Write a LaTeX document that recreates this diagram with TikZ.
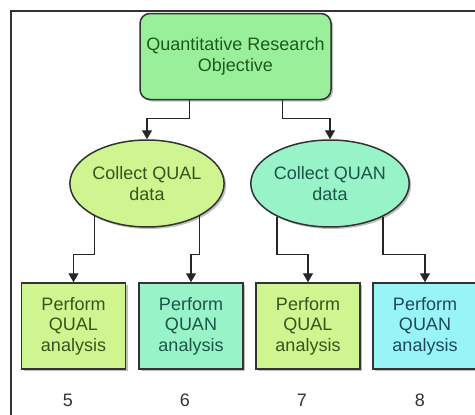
\documentclass[tikz,border=0pt]{standalone}
\usepackage{fontspec}
\setmainfont{Liberation Sans}
\usepackage{xcolor}
\usepackage{tikz}
\usetikzlibrary{arrows.meta, shapes.geometric, shadows}
\definecolor{objFill}{HTML}{9AF09A}
\definecolor{qualFill}{HTML}{CEF590}
\definecolor{quanFill}{HTML}{99F3C8}
\definecolor{cyanFill}{HTML}{99F5F5}
\definecolor{greenText}{HTML}{1E5A1E}
\definecolor{olivText}{HTML}{35551A}
\definecolor{tealText}{HTML}{1A5548}
\definecolor{blueText}{HTML}{1A4A5A}
\definecolor{edgeColor}{HTML}{333333}

\begin{document}
\begin{tikzpicture}[x=1pt, y=-1pt,
    every node/.style={font=\fontsize{18}{20.5}\selectfont, align=center, inner sep=0pt},
    shapebase/.style={draw=edgeColor, line width=1.5pt,
        drop shadow={shadow xshift=2pt, shadow yshift=-2pt, fill=black, opacity=0.25}},
    objbox/.style={shapebase, rectangle, rounded corners=10pt, fill=objFill, text=greenText,
        minimum width=191pt, minimum height=86pt},
    collect/.style={shapebase, ellipse, minimum width=148pt, minimum height=87pt},
    taskbox/.style={shapebase, rectangle, minimum width=104pt, minimum height=86pt},
    conn/.style={draw=black!85, line width=1.4pt, -{Triangle[length=9pt, width=10pt]}},
    num/.style={text=black!80}]
    \useasboundingbox (0,0) rectangle (475,415);
    \clip (0,0) rectangle (475,415);
    \draw[line width=1.4pt, edgeColor] (11,420) -- (11,11) -- (480,11);

    \node[objbox] (obj) at (235.5,56.5) {Quantitative Research\\Objective};

    \node[collect, fill=qualFill, text=olivText] (qual) at (147,183.5) {Collect QUAL\\data};
    \node[collect, fill=quanFill, text=tealText] (quan) at (330,183.5) {Collect QUAN\\data};

    \node[taskbox, fill=qualFill, text=olivText] (qual1) at (73.5,326) {Perform\\QUAL\\analysis};
    \node[taskbox, fill=quanFill, text=tealText] (quan1) at (191,326) {Perform\\QUAN\\analysis};
    \node[taskbox, fill=qualFill, text=olivText] (qual2) at (308,326) {Perform\\QUAL\\analysis};
    \node[taskbox, fill=cyanFill, text=blueText] (quan2) at (425,326) {Perform\\QUAN\\analysis};

    \node[num] (n5) at (68,400) {5};
    \node[num] (n6) at (185,400) {6};
    \node[num] (n7) at (302,400) {7};
    \node[num] (n8) at (420,400) {8};

    \draw[conn] ([xshift=-46pt]obj.south) -- ++(0,18) -| (qual.north);
    \draw[conn] ([xshift=47pt]obj.south) -- ++(0,18) -| (quan.north);

    \draw[conn] (qual.212) |- ([yshift=28pt]qual1.north) -- (qual1.north);
    \draw[conn] (qual.328) |- ([yshift=28pt]quan1.north) -- (quan1.north);
    \draw[conn] (quan.212) |- ([yshift=28pt]qual2.north) -- (qual2.north);
    \draw[conn] (quan.328) |- ([yshift=28pt]quan2.north) -- (quan2.north);
\end{tikzpicture}
\end{document}
